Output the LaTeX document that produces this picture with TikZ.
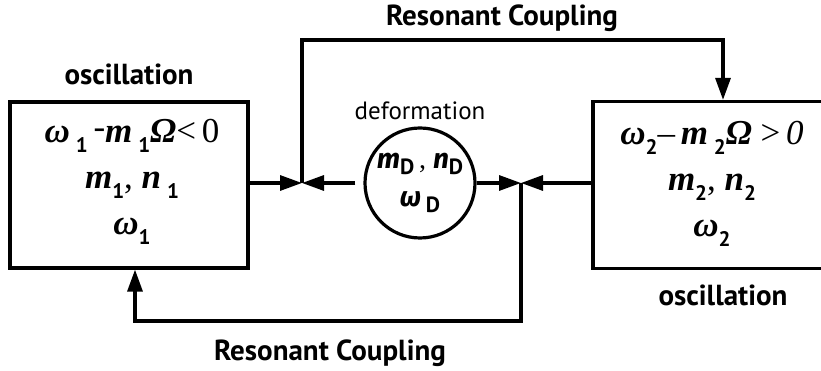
\documentclass[tikz,border=0pt]{standalone}
\usepackage{fontspec}
\setmainfont{Liberation Serif}
\newfontfamily\labelfont{PT Sans}
\newfontfamily\greekfont{Fira Sans}
\usetikzlibrary{arrows.meta, positioning}

% Bold italic letters and lowered sans indices
\newcommand{\bi}[1]{\textbf{\textit{#1}}}
\newcommand{\sfbi}[1]{{\greekfont\bfseries\itshape #1}}
\newcommand{\low}[1]{\raisebox{-0.3em}{\labelfont\bfseries\fontsize{21}{21}\selectfont #1}}
\newcommand{\lowd}[1]{\raisebox{-0.2em}{\labelfont\bfseries\fontsize{22}{22}\selectfont #1}}

\begin{document}
\begin{tikzpicture}[x=1pt, y=1pt,
    box/.style={draw, line width=3.2pt, minimum width=238pt, minimum height=166pt, inner sep=0pt},
    flow/.style={line width=3.2pt, -{Triangle[length=22pt, width=15pt]}},
    heading/.style={font=\labelfont\bfseries\fontsize{29}{32}\selectfont, inner sep=0pt},
    mathtext/.style={align=center, font=\fontsize{35}{46}\selectfont}]
    % Fix the page size
    \useasboundingbox (0,0) rectangle (821,371);

    % Draw the two oscillation boxes
    \node[box] (osc1) at (129,186) {};
    \node[box, minimum width=260pt, minimum height=167pt] (osc2) at (723,186) {};

    % Texts inside the boxes
    \node[mathtext] (txt1) at (132,189) {\bi{ω}\,\low{1}\,\raisebox{0.1em}{-}\bi{m}\,\low{1}\bi{Ω}<\,0\\
        \bi{m}\low{1}, \bi{n}\,\low{1}\\ \bi{ω}\low{1}};
    \node[mathtext] (txt2) at (712,187) {\bi{ω}\low{2}–\,\bi{m}\,\low{2}\bi{Ω}\ >\,\textit{0}\\
        \bi{m}\low{2}, \bi{n}\low{2}\\ \bi{ω}\low{2}};

    % Draw the deformation circle
    \node[circle, draw, line width=3.2pt, minimum size=110pt, inner sep=0pt, align=center,
        font=\fontsize{28}{38}\selectfont] (def) at (420,188) {\sfbi{m}\lowd{D}\,, \sfbi{n}\lowd{D}\\ \sfbi{ω}\,\lowd{D}};

    % Junctions and corners of the coupling lines
    \coordinate (j1) at (302,188);
    \coordinate (j2) at (521,188);
    \coordinate (topbar) at (302,331);
    \coordinate (botbar) at (135,50);

    % Arrows into the junctions
    \draw[flow] (osc1.east |- j1) -- (j1);
    \draw[flow, shorten <=8pt] (def.west) -- (j1);
    \draw[flow] (def.east) -- (j2);
    \draw[flow] (osc2.west |- j2) -- (j2);

    % Resonant coupling loops
    \draw[flow] (j1) -- (topbar) -| (osc2.north);
    \draw[flow] (j2) |- (botbar) -- (botbar |- osc1.south);

    % Labels
    \node[heading, above=15pt of osc1] (osc1lbl) {oscillation};
    \node[heading, below=15pt of osc2] (osc2lbl) {oscillation};
    \node[font=\labelfont\fontsize{25}{27}\selectfont, inner sep=0pt, above=6pt of def] (deflbl) {deformation};
    \node[heading] (coup1) at (502,353) {Resonant Coupling};
    \node[heading] (coup2) at (330,18) {Resonant Coupling};
\end{tikzpicture}
\end{document}
